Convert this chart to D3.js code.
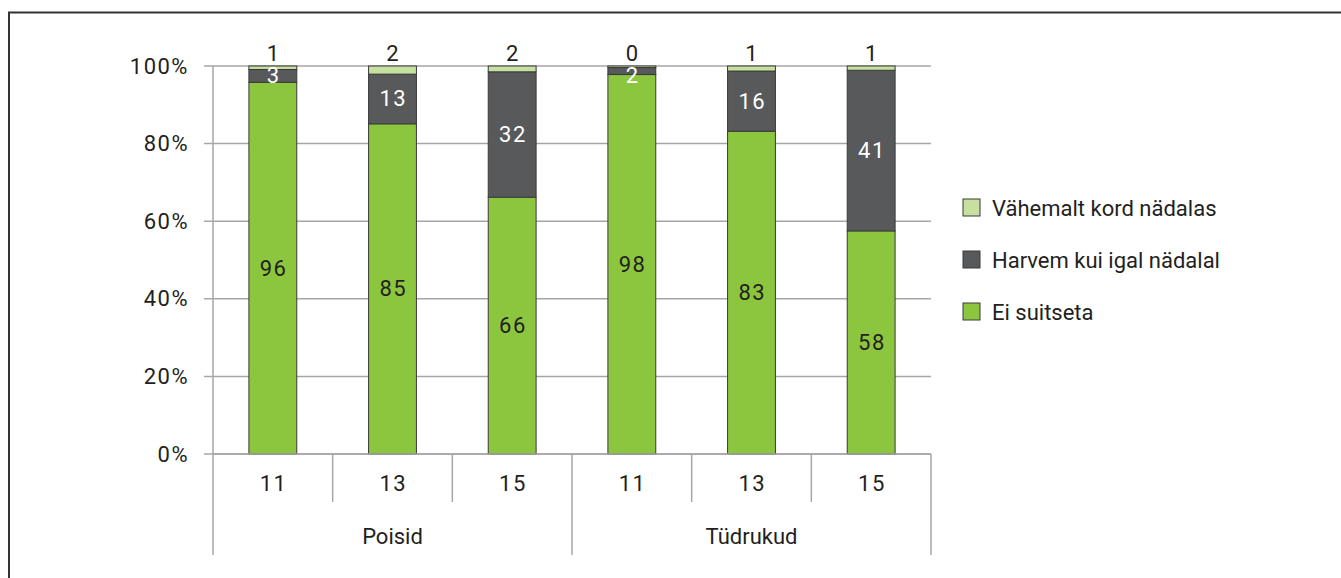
<!DOCTYPE html>
<html>
<head>
<meta charset="utf-8">
<script src="https://cdn.jsdelivr.net/npm/d3@7"></script>
<style>
  html, body { margin: 0; padding: 0; background: #fff; }
  svg { display: block; }
  text { font-family: Roboto, "Noto Sans", sans-serif; fill: #231f20; }
  .num { letter-spacing: 1.5px; }
</style>
</head>
<body>
<svg id="chart" width="1341" height="578"></svg>
<script>
// ---- data ----
const groups = ["Poisid", "Tüdrukud"];
const ages = ["11", "13", "15"];
const seriesNames = ["Ei suitseta", "Harvem kui igal nädalal", "Vähemalt kord nädalas"];
const eiSuitseta   = [95.8, 85.1, 66.2, 97.8, 83.2, 57.5];
const harvem       = [3.3, 12.8, 32.3, 1.8, 15.5, 41.4];
const vahemalt     = [0.9, 2.1, 1.5, 0.4, 1.3, 1.1];
const yTicks = [0, 20, 40, 60, 80, 100];

// ---- styling ----
const colors = ["#8cc63e", "#58595b", "#c6e0a0"];
const labelColors = ["#231f20", "#ffffff", "#231f20"];
const fs = 22;

const svg = d3.select("#chart");
const plotLeft = 213, plotRight = 931, plotTop = 66, plotBottom = 454;

// frame
svg.append("path")
  .attr("d", "M9,579 L9,12.5 L1342,12.5")
  .attr("fill", "none").attr("stroke", "#333").attr("stroke-width", 2);

const cats = [];
groups.forEach((g, gi) => ages.forEach((a, ai) => cats.push({ key: g + "-" + a, group: g, age: a, i: gi * ages.length + ai })));

const x = d3.scaleBand().domain(cats.map(d => d.key)).range([plotLeft, plotRight]).paddingInner(0.6).paddingOuter(0.3);
const y = d3.scaleLinear().domain([0, 100]).range([plotBottom, plotTop]);

// gridlines
svg.append("g").selectAll("line").data(yTicks).join("line")
  .attr("x1", plotLeft - 9).attr("x2", plotRight)
  .attr("y1", d => y(d)).attr("y2", d => y(d))
  .attr("stroke", "#a6a6a6").attr("stroke-width", 1.5);

// y axis labels
const yAxis = d3.axisLeft(y).tickValues(yTicks).tickFormat(d => d + "%").tickSize(0).tickPadding(24);
const yg = svg.append("g").attr("transform", `translate(${plotLeft},0)`).call(yAxis);
yg.select(".domain").remove();
yg.selectAll("text").attr("font-size", fs).attr("class", "num").attr("fill", "#231f20").style("font-family", "Roboto, sans-serif");

// y axis line
svg.append("line").attr("x1", plotLeft).attr("x2", plotLeft).attr("y1", plotTop).attr("y2", plotBottom)
  .attr("stroke", "#a6a6a6").attr("stroke-width", 1.5);

// stacked data
const rows = cats.map(c => ({ key: c.key, s0: eiSuitseta[c.i], s1: harvem[c.i], s2: vahemalt[c.i] }));
const stack = d3.stack().keys(["s0", "s1", "s2"]);
const stacked = stack(rows);

const bars = svg.append("g");
stacked.forEach((layer, li) => {
  bars.append("g").selectAll("rect").data(layer).join("rect")
    .attr("x", d => x(d.data.key))
    .attr("width", x.bandwidth())
    .attr("y", d => y(d[1]))
    .attr("height", d => y(d[0]) - y(d[1]))
    .attr("fill", colors[li])
    .attr("stroke", "#3a3a3a").attr("stroke-width", 1);
});

// labels
stacked.forEach((layer, li) => {
  svg.append("g").selectAll("text").data(layer).join("text")
    .attr("class", "num")
    .attr("x", d => x(d.data.key) + x.bandwidth() / 2 + 0.75)
    .attr("y", d => {
      if (li === 2) return y(100) - 13;
      let c = (y(d[0]) + y(d[1])) / 2;
      if (li === 1) c = Math.max(c, y(100) + 9.5);
      return c;
    })
    .attr("text-anchor", "middle")
    .attr("dominant-baseline", "central")
    .attr("font-size", fs)
    .style("fill", labelColors[li])
    .text(d => Math.round(d[1] - d[0]));
});

// category axis
const catAxis = svg.append("g");
catAxis.append("line").attr("x1", plotLeft).attr("x2", plotRight).attr("y1", plotBottom).attr("y2", plotBottom)
  .attr("stroke", "#a6a6a6").attr("stroke-width", 1.5);
const step = x.step();
// small dividers between ages
catAxis.selectAll("line.small").data(cats.filter(c => c.age !== ages[0])).join("line")
  .attr("class", "small")
  .attr("x1", d => x(d.key) - (step - x.bandwidth()) / 2)
  .attr("x2", d => x(d.key) - (step - x.bandwidth()) / 2)
  .attr("y1", plotBottom).attr("y2", 502)
  .attr("stroke", "#a6a6a6").attr("stroke-width", 1.5);
// group dividers
const groupEdges = [0, 3, 6].map(i => plotLeft + i * step);
catAxis.selectAll("line.big").data(groupEdges).join("line")
  .attr("class", "big")
  .attr("x1", d => d).attr("x2", d => d)
  .attr("y1", plotBottom).attr("y2", 555)
  .attr("stroke", "#a6a6a6").attr("stroke-width", 1.5);
catAxis.selectAll("text.age").data(cats).join("text")
  .attr("class", "age num")
  .attr("x", d => x(d.key) + x.bandwidth() / 2 + 0.75)
  .attr("y", 483)
  .attr("text-anchor", "middle").attr("dominant-baseline", "central")
  .attr("font-size", fs)
  .text(d => d.age);
catAxis.selectAll("text.grp").data(groups).join("text")
  .attr("class", "grp")
  .attr("x", (d, i) => plotLeft + (i * 3 + 1.5) * step)
  .attr("y", 536)
  .attr("text-anchor", "middle").attr("dominant-baseline", "central")
  .attr("font-size", fs)
  .text(d => d);

// legend
const legendOrder = [2, 1, 0];
const lg = svg.append("g").attr("transform", "translate(963,199)");
legendOrder.forEach((si, k) => {
  const gy = k * 52;
  lg.append("rect").attr("x", 0).attr("y", gy).attr("width", 17).attr("height", 17)
    .attr("fill", colors[si]).attr("stroke", "#3a3a3a").attr("stroke-width", 1);
  lg.append("text").attr("x", 29).attr("y", gy + 9).attr("dominant-baseline", "central")
    .attr("font-size", fs).text(seriesNames[si]);
});
</script>
</body>
</html>
